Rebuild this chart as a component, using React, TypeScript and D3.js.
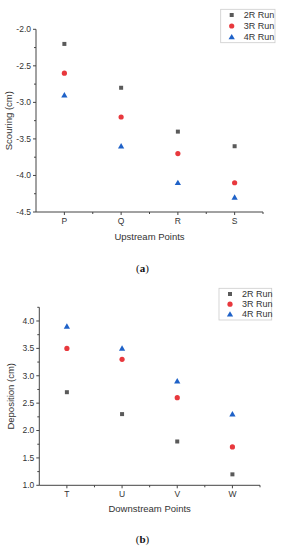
import React from "react";
import * as d3 from "d3";

const seriesNames = ["2R Run", "3R Run", "4R Run"];
const seriesColors = ["#5a5a5a", "#e8383d", "#1f62c8"];
const seriesShapes = ["square", "circle", "triangle"];

const upCategories = ["P", "Q", "R", "S"];
const up2R = [-2.2, -2.8, -3.4, -3.6];
const up3R = [-2.6, -3.2, -3.7, -4.1];
const up4R = [-2.9, -3.6, -4.1, -4.3];
const upTicks = [-2.0, -2.5, -3.0, -3.5, -4.0, -4.5];

const downCategories = ["T", "U", "V", "W"];
const down2R = [2.7, 2.3, 1.8, 1.2];
const down3R = [3.5, 3.3, 2.6, 1.7];
const down4R = [3.9, 3.5, 2.9, 2.3];
const downTicks = [1.0, 1.5, 2.0, 2.5, 3.0, 3.5, 4.0];

const FONT = "Liberation Sans, Arial, sans-serif";
const AX = "#444";

function Marker({ shape, x, y, color }: { shape: string; x: number; y: number; color: string }) {
  if (shape === "square") return <rect x={x - 2} y={y - 2} width={4} height={4} fill={color} />;
  if (shape === "circle") return <circle cx={x} cy={y} r={2.6} fill={color} />;
  const p = d3.symbol(d3.symbolTriangle, 17)();
  return <path d={p || ""} transform={`translate(${x},${y + 0.5})`} fill={color} />;
}

function Panel(props: {
  top: number; left: number; right: number; bottom: number;
  categories: string[]; series: number[][]; domain: [number, number]; ticks: number[];
  xTitle: string; yTitle: string; label: string; labelY: number;
  legend: { x: number; y: number; w: number; h: number };
  xTitleY: number; yTitleX: number;
}) {
  const { top, left, right, bottom, categories, series, domain, ticks } = props;
  const x = d3.scaleBand().domain(categories).range([left, right]);
  const y = d3.scaleLinear().domain(domain).range([bottom, top]);
  const minor: number[] = [];
  for (let i = 0; i < ticks.length - 1; i++) minor.push((ticks[i] + ticks[i + 1]) / 2);
  if (domain[1] > d3.max(ticks)!) {
    const m = d3.max(ticks)! + 0.25;
    if (m <= domain[1]) minor.push(m);
  }
  const bounds = categories.map((c) => x(c)!).slice(1);
  bounds.push(right);
  const { legend } = props;
  return (
    <g>
      <line x1={left} x2={left} y1={top} y2={bottom} stroke={AX} strokeWidth={1} />
      <line x1={left} x2={right} y1={bottom} y2={bottom} stroke={AX} strokeWidth={1} />
      {ticks.map((t) => (
        <g key={"t" + t}>
          <line x1={left - 3} x2={left} y1={y(t)} y2={y(t)} stroke={AX} />
          <text x={left - 5} y={y(t)} dy="0.34em" textAnchor="end" fontSize={8.5} fill="#333" fontFamily={FONT}>
            {t.toFixed(1)}
          </text>
        </g>
      ))}
      {minor.map((t) => (
        <line key={"m" + t} x1={left - 2} x2={left} y1={y(t)} y2={y(t)} stroke={AX} />
      ))}
      {categories.map((c) => (
        <g key={c}>
          <line x1={x(c)! + x.bandwidth() / 2} x2={x(c)! + x.bandwidth() / 2} y1={bottom} y2={bottom + 3} stroke={AX} />
          <text x={x(c)! + x.bandwidth() / 2} y={bottom + 12} textAnchor="middle" fontSize={8.5} fill="#333" fontFamily={FONT}>
            {c}
          </text>
        </g>
      ))}
      {bounds.map((b, i) => (
        <line key={"b" + i} x1={b} x2={b} y1={bottom} y2={bottom + 2} stroke={AX} />
      ))}
      <text x={(left + right) / 2} y={props.xTitleY} textAnchor="middle" fontSize={9.5} fill="#333" fontFamily={FONT}>
        {props.xTitle}
      </text>
      <text
        transform={`translate(${props.yTitleX},${(top + bottom) / 2}) rotate(-90)`}
        textAnchor="middle"
        fontSize={9.5}
        fill="#333"
        fontFamily={FONT}
      >
        {props.yTitle}
      </text>
      {series.map((vals, si) =>
        vals.map((v, i) => (
          <Marker key={si + "-" + i} shape={seriesShapes[si]} color={seriesColors[si]} x={x(categories[i])! + x.bandwidth() / 2} y={y(v)} />
        ))
      )}
      <rect x={legend.x} y={legend.y} width={legend.w} height={legend.h} fill="white" stroke="#ccc" strokeWidth={0.8} />
      {seriesNames.map((n, i) => {
        const ry = legend.y + 5.7 + i * (legend.h - 11.4) / 2;
        return (
          <g key={n}>
            <Marker shape={seriesShapes[i]} color={seriesColors[i]} x={legend.x + 11} y={ry} />
            <text x={legend.x + 23} y={ry} dy="0.35em" fontSize={9} fill="#333" fontFamily={FONT}>
              {n}
            </text>
          </g>
        );
      })}
      <text x={142.5} y={props.labelY} textAnchor="middle" fontSize={11} fontFamily="Liberation Serif, Times New Roman, serif" fill="#111">
        (<tspan fontWeight="bold">{props.label}</tspan>)
      </text>
    </g>
  );
}

export default function App() {
  return (
    <svg width={282} height={550} style={{ position: "absolute", left: 0, top: 0, background: "white" }}>
      <rect width={282} height={550} fill="white" />
      <Panel
        top={29.3}
        left={36}
        right={263}
        bottom={212}
        categories={upCategories}
        series={[up2R, up3R, up4R]}
        domain={[-4.5, -2.0]}
        ticks={upTicks}
        xTitle="Upstream Points"
        yTitle="Scouring (cm)"
        label="a"
        labelY={272}
        legend={{ x: 220.7, y: 9.3, w: 54.3, h: 33.4 }}
        xTitleY={239.5}
        yTitleX={12}
      />
      <Panel
        top={307.3}
        left={39.3}
        right={260}
        bottom={485.3}
        categories={downCategories}
        series={[down2R, down3R, down4R]}
        domain={[1.0, 4.25]}
        ticks={downTicks}
        xTitle="Downstream Points"
        yTitle="Deposition (cm)"
        label="b"
        labelY={543}
        legend={{ x: 219, y: 288.3, w: 52.7, h: 31.7 }}
        xTitleY={512}
        yTitleX={14}
      />
    </svg>
  );
}
